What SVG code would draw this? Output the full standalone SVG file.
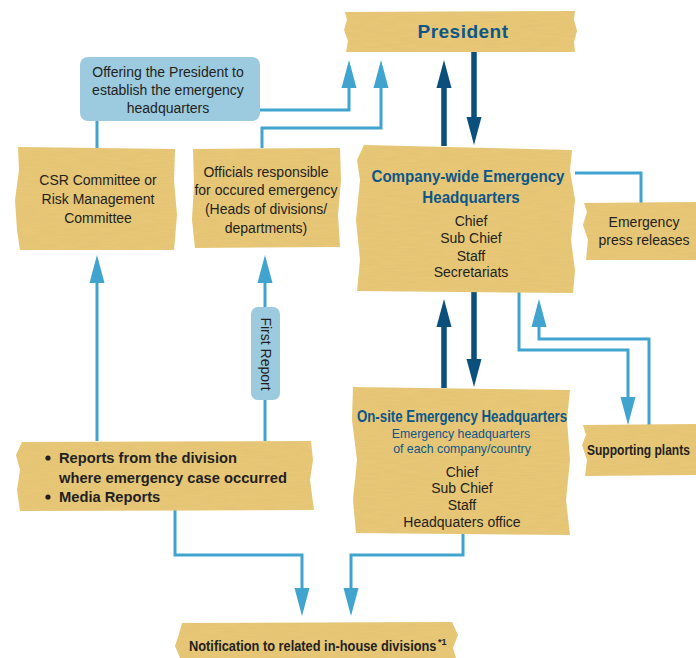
<svg xmlns="http://www.w3.org/2000/svg" width="696" height="658" viewBox="0 0 696 658">
  <defs>
    <style>
      text { font-family: "Liberation Sans", Arial, sans-serif; fill: #231f20; }
      .body { font-size: 14px; text-anchor: middle; }
      .bold { font-weight: bold; }
      .title { font-weight: bold; fill: #0c5689; text-anchor: middle; }
      .sub { fill: #0c5689; font-size: 13px; text-anchor: middle; }
      .tape { fill: #e8c877; filter: url(#grain); }
      .note { fill: #9ccade; }
      .lite { fill: none; stroke: #40a4cf; stroke-width: 3; stroke-linejoin: miter; }
      .dark { fill: none; stroke: #0b4f7c; stroke-width: 5.5; }
    </style>
    <!-- paper grain for the tape labels -->
    <filter id="grain" x="0" y="0" width="100%" height="100%">
      <feTurbulence type="fractalNoise" baseFrequency="0.05 0.6" numOctaves="2" seed="4" result="n"/>
      <feColorMatrix in="n" type="matrix" values="0 0 0 0 0.6  0 0 0 0 0.45  0 0 0 0 0.15  0 0 0 0.35 -0.1" result="tint"/>
      <feComposite in="tint" in2="SourceGraphic" operator="in" result="t2"/>
      <feMerge><feMergeNode in="SourceGraphic"/><feMergeNode in="t2"/></feMerge>
    </filter>
    <marker id="headLite" markerUnits="userSpaceOnUse" markerWidth="30" markerHeight="16" refX="0" refY="8" orient="auto" viewBox="0 0 30 16">
      <path d="M0,0.5 L28,8 L0,15.5 Z" fill="#40a4cf"/>
    </marker>
    <marker id="headDark" markerUnits="userSpaceOnUse" markerWidth="30" markerHeight="16" refX="0" refY="8" orient="auto" viewBox="0 0 30 16">
      <path d="M0,0.5 L28,8 L0,15.5 Z" fill="#0b4f7c"/>
    </marker>
  </defs>

  <rect width="696" height="658" fill="#ffffff"/>

  <!-- connectors -->
  <g id="connectors">
    <polyline class="lite" points="260,110 349,110 349,88" marker-end="url(#headLite)"/>
    <polyline class="lite" points="262,148 262,128 381,128 381,88" marker-end="url(#headLite)"/>
    <polyline class="lite" points="97,121 97,148"/>
    <polyline class="lite" points="97,441 97,283" marker-end="url(#headLite)"/>
    <polyline class="lite" points="265,441 265,283" marker-end="url(#headLite)"/>
    <polyline class="lite" points="575,173 641,173 641,203"/>
    <polyline class="lite" points="519,292 519,350 628,350 628,397" marker-end="url(#headLite)"/>
    <polyline class="lite" points="649,425 649,339 539,339 539,327" marker-end="url(#headLite)"/>
    <polyline class="lite" points="175,510 175,555 302,555 302,588" marker-end="url(#headLite)"/>
    <polyline class="lite" points="463,534 463,555 351,555 351,588" marker-end="url(#headLite)"/>
    <polyline class="dark" points="444,146 444,88" marker-end="url(#headDark)"/>
    <polyline class="dark" points="474,51 474,117" marker-end="url(#headDark)"/>
    <polyline class="dark" points="444,388 444,327" marker-end="url(#headDark)"/>
    <polyline class="dark" points="474,292 474,359" marker-end="url(#headDark)"/>
  </g>

  <g id="president">
    <path class="tape" d="M345,12 L575,11 L574,20 L577,31 L574,42 L575,52 L346,52 L348,41 L344,30 L347,20 Z"/>
    <text x="463" y="38" class="title" font-size="19" letter-spacing="0.5">President</text>
  </g>

  <g id="offering">
    <rect class="note" x="80" y="57" width="180" height="64" rx="8"/>
    <text class="body" x="168" y="77">Offering the President to</text>
    <text class="body" x="168" y="95">establish the emergency</text>
    <text class="body" x="168" y="113">headquarters</text>
  </g>

  <g id="csr">
    <path class="tape" d="M18,147 L175,149 L174,180 L177,215 L174,250 L20,250 L17,230 L15,200 L19,170 Z"/>
    <text class="body" x="98" y="185" font-size="15">CSR Committee or</text>
    <text class="body" x="98" y="204" font-size="15">Risk Management</text>
    <text class="body" x="98" y="223" font-size="15">Committee</text>
  </g>

  <g id="officials">
    <path class="tape" d="M193,149 L340,148 L341,180 L338,215 L340,247 L195,248 L192,220 L194,185 Z"/>
    <text class="body" x="266" y="177">Officials responsible</text>
    <text class="body" x="266" y="195">for occured emergency</text>
    <text class="body" x="266" y="214">(Heads of divisions/</text>
    <text class="body" x="266" y="233">departments)</text>
  </g>

  <g id="company-hq">
    <path class="tape" d="M364,145 L572,150 L570,170 L575,200 L571,240 L575,270 L573,293 L357,291 L360,260 L356,220 L360,180 L357,160 Z"/>
    <text class="title" transform="translate(468,182) scale(0.945,1)" font-size="16">Company-wide Emergency</text>
    <text class="title" transform="translate(471,203) scale(0.945,1)" font-size="16">Headquarters</text>
    <text class="body" x="471" y="226">Chief</text>
    <text class="body" x="471" y="243">Sub Chief</text>
    <text class="body" x="471" y="261">Staff</text>
    <text class="body" x="471" y="277">Secretariats</text>
  </g>

  <g id="press">
    <path class="tape" d="M584,203 L696,202 L696,260 L586,260 L588,240 L583,225 L587,212 Z"/>
    <text class="body" x="644" y="227">Emergency</text>
    <text class="body" x="644" y="245">press releases</text>
  </g>

  <g id="first-report">
    <rect class="note" x="251" y="307" width="29" height="93" rx="7"/>
    <text class="body" transform="translate(260.5,354) rotate(90)">First Report</text>
  </g>

  <g id="reports">
    <path class="tape" d="M22,442 L311,441 L313,460 L310,480 L314,510 L20,511 L17,490 L20,470 L16,455 Z"/>
    <circle cx="48" cy="458" r="2.6" fill="#231f20"/>
    <circle cx="48" cy="497" r="2.6" fill="#231f20"/>
    <text class="bold" transform="translate(59,463) scale(0.98,1)" font-size="15">Reports from the division</text>
    <text class="bold" transform="translate(59,483) scale(0.98,1)" font-size="15">where emergency case occurred</text>
    <text class="bold" transform="translate(59,502) scale(0.98,1)" font-size="15">Media Reports</text>
  </g>

  <g id="onsite-hq">
    <path class="tape" d="M353,387 L570,390 L567,420 L570,460 L566,500 L570,535 L356,533 L353,500 L357,460 L352,420 Z"/>
    <text class="title" transform="translate(462,422) scale(0.83,1)" font-size="16">On-site Emergency Headquarters</text>
    <text class="sub" transform="translate(461,438) scale(0.95,1)">Emergency headquarters</text>
    <text class="sub" transform="translate(462,453) scale(0.95,1)">of each company/country</text>
    <text class="body" x="462" y="477">Chief</text>
    <text class="body" x="462" y="493">Sub Chief</text>
    <text class="body" x="462" y="510">Staff</text>
    <text class="body" x="462" y="527">Headquaters office</text>
  </g>

  <g id="supporting-plants">
    <path class="tape" d="M583,425 L696,424 L696,475 L585,476 L587,460 L582,445 L586,435 Z"/>
    <text class="bold" transform="translate(587,455) scale(0.86,1)" font-size="14">Supporting plants</text>
  </g>

  <g id="notification">
    <path class="tape" d="M182,623 L452,622 L458,635 L453,648 L456,658 L180,658 L175,646 L179,634 Z"/>
    <text class="bold" transform="translate(189,651) scale(0.915,1)" font-size="14">Notification to related in-house divisions</text>
    <text class="bold" x="438" y="645" font-size="9">*1</text>
  </g>
</svg>
